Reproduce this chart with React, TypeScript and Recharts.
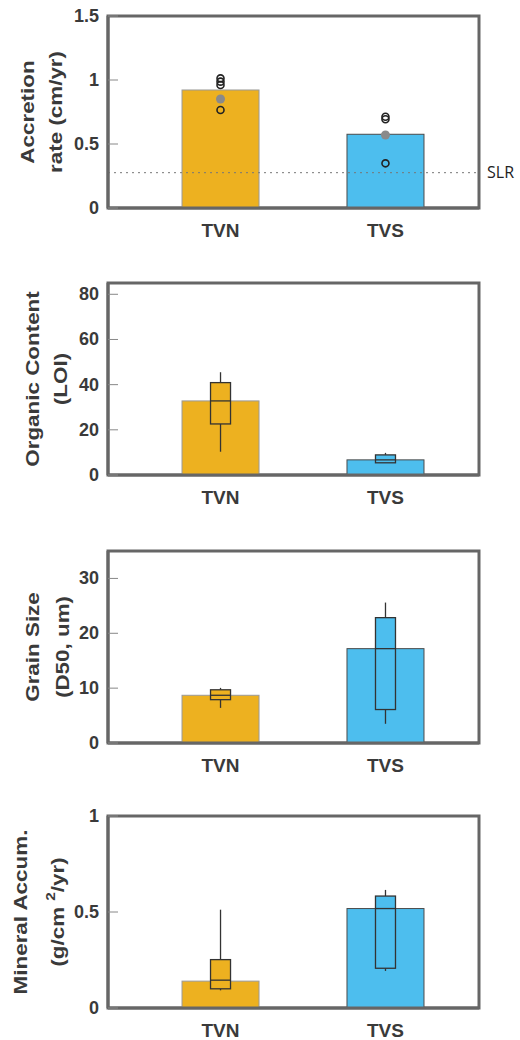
import React from 'react';
import {
  ComposedChart,
  Bar,
  Scatter,
  XAxis,
  YAxis,
  ReferenceLine,
  ReferenceArea,
} from 'recharts';

// sites
const SITES = ['TVN', 'TVS'];

// accretion rate (cm/yr): bar = mean, open circles = cores, grey dot = mean of cores
const accretionMean = [0.922, 0.576];
const accretionCores = [
  { site: 'TVN', v: 1.013 },
  { site: 'TVN', v: 0.987 },
  { site: 'TVN', v: 0.961 },
  { site: 'TVN', v: 0.766 },
  { site: 'TVS', v: 0.713 },
  { site: 'TVS', v: 0.693 },
  { site: 'TVS', v: 0.349 },
];
const accretionCoreMean = [
  { site: 'TVN', v: 0.852 },
  { site: 'TVS', v: 0.57 },
];
const SLR = 0.276;

// organic content (LOI)
const organicMean = [32.8, 6.7];
const organicLo = [10.3, 5.3];
const organicQ1 = [22.6, 5.4];
const organicMed = [32.8, 6.7];
const organicQ3 = [40.9, 8.9];
const organicHi = [45.5, 9.8];

// grain size (D50, um)
const grainMean = [8.7, 17.2];
const grainLo = [6.4, 3.5];
const grainQ1 = [7.9, 6.1];
const grainMed = [8.7, 17.2];
const grainQ3 = [9.7, 22.85];
const grainHi = [10.05, 25.6];

// mineral accumulation (g/cm2/yr)
const mineralMean = [0.14, 0.518];
const mineralLo = [0.092, 0.193];
const mineralQ1 = [0.1, 0.207];
const mineralMed = [0.145, 0.518];
const mineralQ3 = [0.252, 0.583];
const mineralHi = [0.512, 0.615];

const FILLS = ['#EDB120', '#4DBEEE'];
const EDGES = ['#9a9a9a', '#4a4a4a'];
const TXT = '#3a3a3a';
const FRAME = '#666';
const FONT = '"Liberation Sans", Arial, sans-serif';
const X_DOMAIN: [number, number] = [0.318, 2.567];

const build = (mean: number[], lo?: number[], q1?: number[], med?: number[], q3?: number[], hi?: number[]) =>
  SITES.map((site, i) => ({
    pos: i + 1,
    mean: mean[i],
    ...(lo ? { lo: lo[i], q1: q1![i], med: med![i], q3: q3![i], hi: hi![i] } : {}),
  }));

const withPos = (pts: { site: string; v: number }[]) => pts.map((p) => ({ pos: SITES.indexOf(p.site) + 1, v: p.v }));

// bar + optional box plot drawn with the bar's own pixel scale
const BoxBar = (props: any) => {
  const { x, y, width, height, payload, index } = props;
  const base = y + height;
  const k = height / payload.mean;
  const py = (v: number) => base - v * k;
  const cx = x + width / 2;
  const hw = 10;
  return (
    <g>
      <rect x={x} y={y} width={width} height={height} fill={FILLS[index]} stroke={EDGES[index]} strokeWidth={1} />
      {payload.q1 != null && (
        <g stroke="#333" strokeWidth={1.3}>
          <line x1={cx} x2={cx} y1={py(payload.q3)} y2={py(payload.hi)} />
          <line x1={cx} x2={cx} y1={py(payload.q1)} y2={py(payload.lo)} />
          <rect x={cx - hw} y={py(payload.q3)} width={hw * 2} height={py(payload.q1) - py(payload.q3)} fill={FILLS[index]} />
          <line x1={cx - hw} x2={cx + hw} y1={py(payload.med)} y2={py(payload.med)} />
        </g>
      )}
    </g>
  );
};

const YTick = (props: any) => {
  const { x, y, payload, margin } = props;
  return (
    <g>
      <text x={x} y={y} dy={6} textAnchor="end" fill={TXT} fontSize={18} fontWeight="bold" fontFamily={FONT}>
        {payload.value}
      </text>
      <line x1={x + margin} x2={x + margin + 10} y1={y} y2={y} stroke="#888" strokeWidth={1} />
    </g>
  );
};

type PanelProps = {
  top: number;
  data: any[];
  domain: [number, number];
  ticks: number[];
  title: React.ReactNode[];
  titleX: [number, number];
  children?: React.ReactNode;
};

const Panel = ({ top, data, domain, ticks, title, titleX, children }: PanelProps) => {
  const TitleLabel = (p: any) => {
    const vb = p.viewBox;
    const cy = vb.y + vb.height / 2;
    return (
      <g fill={TXT} fontSize={19} fontWeight="bold" fontFamily={FONT}>
        {title.map((line, i) => (
          <text
            key={i}
            x={0}
            y={0}
            textAnchor="middle"
            dominantBaseline="central"
            transform={`translate(${titleX[i]} ${cy}) rotate(-90) scale(1.18 1)`}
          >
            {line}
          </text>
        ))}
      </g>
    );
  };
  return (
    <div style={{ position: 'absolute', left: 0, top }}>
      <ComposedChart width={520} height={240} data={data} margin={{ top: 16, right: 41, bottom: 0, left: 48 }}>
        <XAxis
          dataKey="pos"
          type="number"
          domain={X_DOMAIN}
          allowDataOverflow
          ticks={[1, 2]}
          tickFormatter={(v: number) => SITES[v - 1]}
          height={32}
          axisLine={{ stroke: FRAME, strokeWidth: 3 }}
          tickLine={false}
          tickSize={0}
          tickMargin={16}
          tick={{ fill: TXT, fontSize: 19, fontWeight: 'bold', fontFamily: FONT }}
        />
        <YAxis
          width={60}
          domain={domain}
          ticks={ticks}
          allowDataOverflow
          axisLine={{ stroke: FRAME, strokeWidth: 3 }}
          tickLine={false}
          tickSize={0}
          tickMargin={9}
          tick={<YTick margin={9} />}
          label={<TitleLabel />}
        />
        <ReferenceArea y1={domain[0]} y2={domain[1]} fill="none" stroke={FRAME} strokeWidth={3} fillOpacity={0} strokeOpacity={1} />
        <Bar dataKey="mean" barSize={77} isAnimationActive={false} shape={<BoxBar />} />
        {children}
      </ComposedChart>
    </div>
  );
};

const OpenDot = (p: any) => <circle cx={p.cx} cy={p.cy} r={3.5} fill="none" stroke="#222" strokeWidth={1.6} />;
const GreyDot = (p: any) => <circle cx={p.cx} cy={p.cy} r={4.5} fill="#8a8a8a" />;

export default function App() {
  return (
    <div style={{ position: 'absolute', left: 0, top: 0, width: 520, height: 1040, overflow: 'hidden', background: '#fff' }}>
      <Panel
        top={0}
        data={build(accretionMean)}
        domain={[0, 1.5]}
        ticks={[0, 0.5, 1, 1.5]}
        title={['Accretion', 'rate (cm/yr)']}
        titleX={[27, 55]}
      >
        <ReferenceLine
          y={SLR}
          stroke="#777"
          strokeDasharray="2 4"
          strokeWidth={1}
          label={{ value: 'SLR', position: 'right', offset: 8, fill: '#222', fontSize: 16, fontFamily: '"Open Sans", sans-serif' }}
        />
        <Scatter data={withPos(accretionCores)} dataKey="v" isAnimationActive={false} shape={<OpenDot />} />
        <Scatter data={withPos(accretionCoreMean)} dataKey="v" isAnimationActive={false} shape={<GreyDot />} />
      </Panel>
      <Panel
        top={267}
        data={build(organicMean, organicLo, organicQ1, organicMed, organicQ3, organicHi)}
        domain={[0, 85]}
        ticks={[0, 20, 40, 60, 80]}
        title={['Organic Content', '(LOI)']}
        titleX={[32, 60]}
      />
      <Panel
        top={535}
        data={build(grainMean, grainLo, grainQ1, grainMed, grainQ3, grainHi)}
        domain={[0, 35]}
        ticks={[0, 10, 20, 30]}
        title={['Grain Size', '(D50, um)']}
        titleX={[32, 62]}
      />
      <Panel
        top={800}
        data={build(mineralMean, mineralLo, mineralQ1, mineralMed, mineralQ3, mineralHi)}
        domain={[0, 1]}
        ticks={[0, 0.5, 1]}
        title={[
          'Mineral Accum.',
          <>
            (g/cm <tspan fontSize={13} dy={-7}>2</tspan>
            <tspan dy={7}>/yr)</tspan>
          </>,
        ]}
        titleX={[20, 57]}
      />
    </div>
  );
}
